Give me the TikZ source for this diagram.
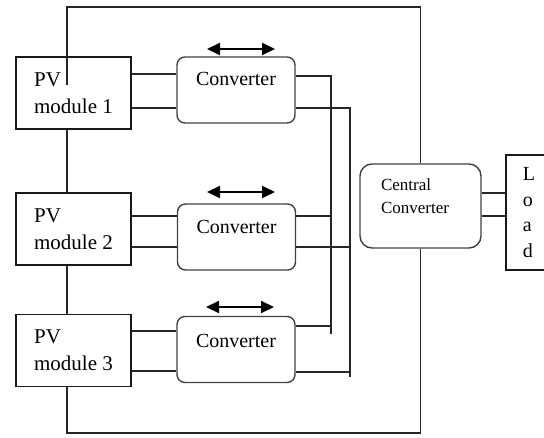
\documentclass[tikz,border=0pt]{standalone}
\usepackage{fontspec}
\setmainfont{Liberation Serif}
\usetikzlibrary{arrows.meta}
\begin{document}
\begin{tikzpicture}[x=1bp,y=-1bp,
  wire/.style={draw=black!85, line width=1.4bp},
  pvbox/.style={draw=black!90, line width=1.4bp, minimum width=115bp, minimum height=72bp,
    inner sep=0pt, align=left, font=\fontsize{21bp}{27bp}\selectfont},
  convbox/.style={draw=black!75, line width=1.4bp, rounded corners=8bp, minimum width=118bp,
    minimum height=66bp, inner sep=0pt},
  convtext/.style={anchor=base, inner sep=0pt, font=\fontsize{20bp}{24bp}\selectfont},
  centralbox/.style={draw=black!75, line width=1.4bp, rounded corners=12bp, minimum width=121bp,
    minimum height=84bp, inner sep=0pt},
  loadbox/.style={draw=black!90, line width=1.4bp, minimum width=46bp, minimum height=115bp,
    inner sep=0pt, align=left, font=\fontsize{20bp}{25.7bp}\selectfont},
  biarrow/.style={line width=2bp, {Triangle[length=13bp,width=12bp]}-{Triangle[length=13bp,width=12bp]}}
]
\useasboundingbox (0,0) rectangle (544,438);

% PV modules
\node[pvbox] (pv1) at (73.5,93)  {PV\\module 1};
\node[pvbox] (pv2) at (73.5,229) {PV\\module 2};
\node[pvbox] (pv3) at (73.5,350.5) {PV\\module 3};

% DC/DC converters
\node[convbox] (c1) at (236,90) {};
\node[convbox] (c2) at (236.5,237) {};
\node[convbox] (c3) at (236,349.5) {};
\node[convtext] (c1t) at (236,86)    {Converter};
\node[convtext] (c2t) at (236.5,234) {Converter};
\node[convtext] (c3t) at (236,347)   {Converter};

% bidirectional arrows above converters
\coordinate (a1l) at (207,49);  \coordinate (a1r) at (275,49);
\coordinate (a2l) at (207,192); \coordinate (a2r) at (275,192);
\coordinate (a3l) at (206,307); \coordinate (a3r) at (274,307);
\draw[biarrow] (a1l) -- (a1r);
\draw[biarrow] (a2l) -- (a2r);
\draw[biarrow] (a3l) -- (a3r);

% central converter and load
\node[centralbox] (cc) at (420.5,206) {};
\node[inner sep=0pt, align=left, font=\fontsize{17bp}{23bp}\selectfont] (cct) at (415,196.5) {Central\\Converter};
\node[loadbox] (load) at (529,212.5) {L\\o\\a\\d};

% rail heights and column positions
\coordinate (col) at (67,0);
\coordinate (busA) at (331,0);
\coordinate (busB) at (350,0);
\coordinate (ytop) at (0,7);
\coordinate (ybot) at (0,433);
\coordinate (pvtap) at (67,85);
\coordinate (p1a) at (0,74);  \coordinate (p1b) at (0,108);
\coordinate (o1a) at (0,76);  \coordinate (o1b) at (0,108);
\coordinate (p2a) at (0,216); \coordinate (p2b) at (0,247);
\coordinate (p3a) at (0,331); \coordinate (p3b) at (0,371);
\coordinate (o3a) at (0,326); \coordinate (o3b) at (0,372);
\coordinate (endA) at (0,334);
\coordinate (endB) at (0,377);
\coordinate (la) at (0,193);  \coordinate (lb) at (0,216);

% PV to converter pairs
\draw[wire] (pv1.east |- p1a) -- (c1.west |- p1a);
\draw[wire] (pv1.east |- p1b) -- (c1.west |- p1b);
\draw[wire] (pv2.east |- p2a) -- (c2.west |- p2a);
\draw[wire] (pv2.east |- p2b) -- (c2.west |- p2b);
\draw[wire] (pv3.east |- p3a) -- (c3.west |- p3a);
\draw[wire] (pv3.east |- p3b) -- (c3.west |- p3b);

% converter outputs onto the two buses
\draw[wire] (c1.east |- o1a) -- (busA |- o1a) -- (busA |- endA);
\draw[wire] (c1.east |- o1b) -- (busB |- o1b) -- (busB |- endB);
\draw[wire] (c2.east |- p2a) -- (busA |- p2a);
\draw[wire] (c2.east |- p2b) -- (busB |- p2b);
\draw[wire] (c3.east |- o3a) -- (busA |- o3a);
\draw[wire] (c3.east |- o3b) -- (busB |- o3b);

% series string of PV modules
\draw[wire] (col |- pv1.south) -- (col |- pv2.north);
\draw[wire] (col |- pv2.south) -- (col |- pv3.north);

% string ends to the central converter
\draw[wire] (pvtap) -- (col |- ytop) -- (cc.north |- ytop) -- (cc.north);
\draw[wire] (col |- pv3.south) -- (col |- ybot) -- (cc.south |- ybot) -- (cc.south);

% central converter to load
\draw[wire] (cc.east |- la) -- (load.west |- la);
\draw[wire] (cc.east |- lb) -- (load.west |- lb);
\end{tikzpicture}
\end{document}
